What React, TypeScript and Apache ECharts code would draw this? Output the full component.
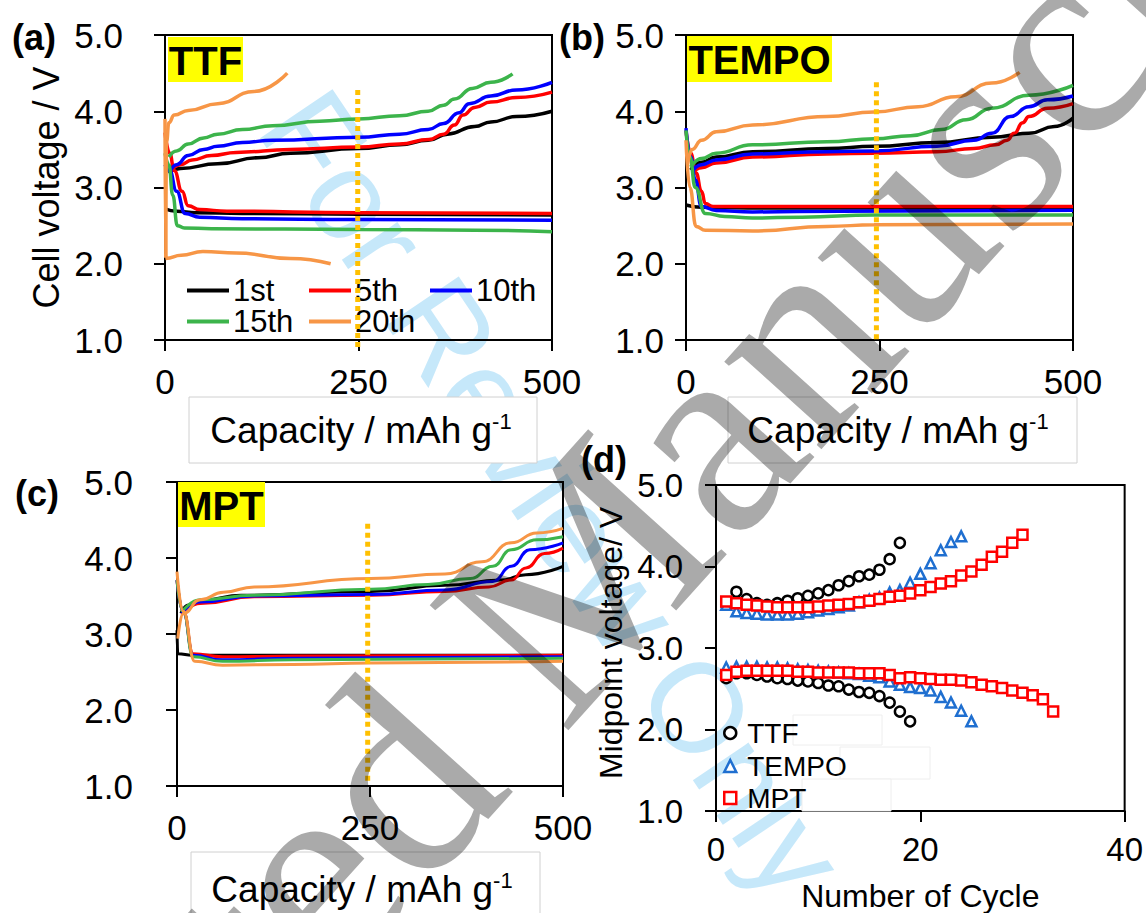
import React, { useEffect, useRef } from "react";
import * as echarts from "echarts";

// ---------------- Panel (a) TTF : [capacity mAh/g, voltage V] ----------------
const TTF_1ST_CHG = [[4,3.2],[20,3.25],[68,3.31],[120,3.39],[162,3.45],[250,3.51],[303,3.56],[340,3.62],[365,3.7],[400,3.8],[421,3.86],[454,3.93],[500,4.0]];
const TTF_1ST_DIS = [[0,2.72],[15,2.69],[40,2.67],[100,2.66],[250,2.65],[500,2.64]];
const TTF_5TH_CHG = [[6,3.2],[20,3.3],[35,3.36],[60,3.42],[92,3.46],[162,3.5],[250,3.53],[303,3.57],[341,3.63],[360,3.7],[374,3.82],[385,3.95],[400,4.05],[421,4.12],[454,4.18],[500,4.25]];
const TTF_5TH_DIS = [[0,3.72],[6,3.45],[12,3.22],[22,2.95],[30,2.76],[45,2.71],[80,2.69],[250,2.67],[500,2.66]];
const TTF_10TH_CHG = [[6,3.2],[15,3.3],[30,3.42],[50,3.5],[68,3.54],[100,3.59],[139,3.62],[250,3.66],[303,3.7],[340,3.76],[360,3.84],[380,3.98],[393,4.1],[421,4.2],[454,4.28],[500,4.38]];
const TTF_10TH_DIS = [[0,3.3],[6,3.22],[15,2.95],[26,2.66],[45,2.61],[100,2.59],[250,2.58],[500,2.57]];
const TTF_15TH_CHG = [[5,3.4],[15,3.48],[30,3.57],[50,3.65],[68,3.7],[100,3.76],[139,3.81],[200,3.87],[250,3.9],[303,3.94],[340,4.0],[360,4.08],[374,4.16],[397,4.3],[421,4.38],[449,4.49]];
const TTF_15TH_DIS = [[0,3.45],[5,3.3],[10,2.9],[16,2.5],[25,2.47],[60,2.46],[250,2.45],[400,2.44],[500,2.42]];
const TTF_20TH_CHG = [[1,2.08],[2,3.6],[5,3.85],[12,3.95],[30,4.01],[68,4.1],[115,4.26],[158,4.5]];
const TTF_20TH_DIS = [[0,3.9],[1,2.07],[21,2.11],[49,2.16],[92,2.14],[162,2.07],[214,2.0]];

// ---------------- Panel (b) TEMPO ----------------
const TEMPO_1ST_CHG = [[6,3.23],[20,3.33],[39,3.4],[86,3.47],[182,3.51],[243,3.54],[324,3.59],[395,3.66],[443,3.71],[476,3.8],[500,3.91]];
const TEMPO_1ST_DIS = [[0,2.77],[20,2.74],[100,2.73],[500,2.73]];
const TEMPO_5TH_CHG = [[8,3.19],[20,3.26],[39,3.32],[86,3.4],[182,3.44],[243,3.45],[324,3.47],[372,3.51],[400,3.56],[415,3.62],[424,3.71],[435,3.85],[443,3.93],[467,4.04],[500,4.1]];
const TEMPO_5TH_DIS = [[0,3.75],[6,3.45],[13,3.19],[20,2.95],[25,2.79],[35,2.75],[100,2.75],[500,2.75]];
const TEMPO_10TH_CHG = [[8,3.21],[20,3.3],[39,3.36],[86,3.44],[182,3.47],[243,3.48],[324,3.54],[372,3.62],[395,3.71],[419,3.93],[443,4.06],[467,4.15],[500,4.2]];
const TEMPO_10TH_DIS = [[0,3.78],[6,3.4],[12,3.1],[20,2.75],[39,2.7],[86,2.68],[200,2.69],[500,2.7]];
const TEMPO_15TH_CHG = [[6,3.27],[20,3.38],[39,3.45],[86,3.56],[182,3.6],[243,3.64],[290,3.68],[330,3.76],[362,3.89],[395,4.04],[443,4.21],[500,4.34]];
const TEMPO_15TH_DIS = [[0,3.75],[5,3.4],[12,3.0],[25,2.66],[50,2.62],[86,2.6],[150,2.61],[243,2.64],[500,2.64]];
const TEMPO_20TH_CHG = [[2,3.3],[8,3.5],[20,3.62],[39,3.73],[86,3.82],[182,3.93],[243,3.99],[300,4.06],[348,4.19],[395,4.37],[431,4.51]];
const TEMPO_20TH_DIS = [[0,3.62],[5,3.0],[13,2.49],[25,2.44],[86,2.43],[182,2.49],[243,2.51],[500,2.52]];

// ---------------- Panel (c) MPT ----------------
const MPT_1ST_CHG = [[5,3.27],[15,3.38],[35,3.45],[83,3.51],[251,3.56],[347,3.64],[419,3.71],[452,3.78],[500,3.89]];
const MPT_1ST_DIS = [[0,3.05],[1,2.74],[20,2.72],[500,2.72]];
const MPT_5TH_CHG = [[6,3.25],[30,3.4],[100,3.49],[251,3.51],[347,3.56],[404,3.62],[433,3.71],[452,3.87],[476,4.06],[500,4.13]];
const MPT_5TH_DIS = [[0,3.71],[8,3.3],[21,2.74],[59,2.7],[150,2.71],[500,2.72]];
const MPT_10TH_CHG = [[6,3.27],[30,3.42],[100,3.5],[251,3.52],[347,3.58],[409,3.69],[433,3.89],[457,4.11],[500,4.2]];
const MPT_10TH_DIS = [[0,3.71],[8,3.3],[21,2.72],[59,2.66],[150,2.68],[500,2.7]];
const MPT_15TH_CHG = [[6,3.29],[30,3.45],[100,3.51],[251,3.59],[325,3.65],[380,3.73],[409,3.89],[433,4.11],[466,4.24],[500,4.28]];
const MPT_15TH_DIS = [[0,3.71],[8,3.3],[21,2.7],[59,2.64],[150,2.66],[500,2.68]];
const MPT_20TH_CHG = [[1,2.94],[8,3.27],[30,3.45],[60,3.55],[100,3.62],[251,3.73],[347,3.79],[395,3.95],[433,4.2],[466,4.33],[500,4.39]];
const MPT_20TH_DIS = [[0,3.82],[8,3.3],[23,2.64],[59,2.59],[150,2.6],[251,2.62],[500,2.64]];

// reference dotted line (capacity, [top V, bottom V]) per panel
const REF_CAPACITY = [249, 246, 247];
const REF_V_RANGE = [[4.28, 0.87], [4.38, 1.0], [4.45, 1.06]];

// ---------------- Panel (d) midpoint voltages by cycle (starting at cycle 1) ----------------
const TTF_MID_CHG = [3.53,3.69,3.6,3.55,3.53,3.55,3.58,3.61,3.64,3.67,3.71,3.77,3.82,3.88,3.9,3.96,4.09,4.29];
const TTF_MID_DIS = [2.63,2.69,2.69,2.67,2.65,2.63,2.62,2.6,2.59,2.57,2.54,2.53,2.49,2.46,2.45,2.41,2.33,2.22,2.1];
const TEMPO_MID_CHG = [3.53,3.45,3.43,3.42,3.41,3.41,3.41,3.42,3.44,3.46,3.48,3.5,3.52,3.56,3.59,3.62,3.68,3.71,3.8,3.91,4.04,4.2,4.3,4.37];
const TEMPO_MID_DIS = [2.76,2.77,2.77,2.77,2.76,2.76,2.75,2.74,2.73,2.72,2.71,2.7,2.69,2.68,2.66,2.64,2.59,2.55,2.52,2.51,2.48,2.4,2.33,2.23,2.1];
const MPT_MID_CHG = [3.57,3.55,3.53,3.52,3.51,3.5,3.5,3.5,3.5,3.51,3.52,3.53,3.54,3.56,3.58,3.6,3.63,3.64,3.67,3.71,3.75,3.79,3.82,3.89,3.94,4.02,4.12,4.18,4.29,4.39];
const MPT_MID_DIS = [2.67,2.71,2.72,2.72,2.72,2.72,2.72,2.71,2.71,2.7,2.7,2.7,2.7,2.69,2.69,2.69,2.67,2.63,2.64,2.63,2.62,2.61,2.61,2.6,2.58,2.55,2.53,2.51,2.48,2.45,2.42,2.37,2.22];

const CYCLE_NAMES = ["1st", "5th", "10th", "15th", "20th"];
const CYCLE_COLORS = ["#000000", "#ff0000", "#0000ff", "#3cb44b", "#f79646"];
const PANEL_NAMES = ["TTF", "TEMPO", "MPT"];

const PANEL_CURVES = [
  [[TTF_1ST_CHG, TTF_1ST_DIS], [TTF_5TH_CHG, TTF_5TH_DIS], [TTF_10TH_CHG, TTF_10TH_DIS], [TTF_15TH_CHG, TTF_15TH_DIS], [TTF_20TH_CHG, TTF_20TH_DIS]],
  [[TEMPO_1ST_CHG, TEMPO_1ST_DIS], [TEMPO_5TH_CHG, TEMPO_5TH_DIS], [TEMPO_10TH_CHG, TEMPO_10TH_DIS], [TEMPO_15TH_CHG, TEMPO_15TH_DIS], [TEMPO_20TH_CHG, TEMPO_20TH_DIS]],
  [[MPT_1ST_CHG, MPT_1ST_DIS], [MPT_5TH_CHG, MPT_5TH_DIS], [MPT_10TH_CHG, MPT_10TH_DIS], [MPT_15TH_CHG, MPT_15TH_DIS], [MPT_20TH_CHG, MPT_20TH_DIS]],
];

const SANS = '"Liberation Sans", Arial, Helvetica, sans-serif';
const SERIF = '"Liberation Serif", "Times New Roman", serif';

const toXY = (vals: number[]) => vals.map((v, i) => [i + 1, v]);

function buildOption() {
  const grids = [
    { left: 165, top: 35, width: 387, height: 305 },
    { left: 686, top: 35, width: 387, height: 305 },
    { left: 177, top: 482, width: 386, height: 304 },
    { left: 716, top: 485, width: 409, height: 327 },
  ].map((g) => ({ ...g, show: true, borderColor: "#000", borderWidth: 2, backgroundColor: "transparent" }));

  const axisLine = { show: true, onZero: false, lineStyle: { color: "#000", width: 2 } };
  const axisTick = { show: true, inside: false, length: 11, lineStyle: { color: "#000", width: 2 } };

  const yMargins = [42, 22, 44, 33];
  const xMargins = [24, 24, 24, 22];
  const xAxis: any[] = [0, 1, 2].map((i) => ({
    type: "value", gridIndex: i, min: 0, max: 500, interval: 250,
    axisLine, axisTick, splitLine: { show: false },
    axisLabel: { color: "#000", fontSize: 35, fontFamily: SANS, margin: xMargins[i], showMinLabel: true, showMaxLabel: true },
  }));
  xAxis.push({
    type: "value", gridIndex: 3, min: 0, max: 40, interval: 20,
    axisLine, axisTick, splitLine: { show: false },
    axisLabel: { color: "#000", fontSize: 33, fontFamily: SANS, margin: xMargins[3], showMinLabel: true, showMaxLabel: true },
    name: "Number of Cycle", nameLocation: "middle", nameGap: 69,
    nameTextStyle: { color: "#000", fontSize: 32, fontFamily: SANS },
  });
  const yAxis: any[] = [0, 1, 2, 3].map((i) => ({
    type: "value", gridIndex: i, min: 1, max: 5, interval: 1,
    axisLine, axisTick, splitLine: { show: false },
    axisLabel: {
      color: "#000", fontSize: i === 3 ? 33 : 35, fontFamily: SANS, margin: yMargins[i],
      formatter: (v: number) => v.toFixed(1), showMinLabel: true, showMaxLabel: true,
    },
  }));
  yAxis[0].name = "Cell voltage / V";
  yAxis[0].nameLocation = "middle";
  yAxis[0].nameGap = 101;
  yAxis[0].nameTextStyle = { color: "#000", fontSize: 36, fontFamily: SANS };
  yAxis[3].name = "Midpoint voltage/ V";
  yAxis[3].nameLocation = "middle";
  yAxis[3].nameGap = 89;
  yAxis[3].nameTextStyle = { color: "#000", fontSize: 32, fontFamily: SANS, padding: [0, 0, 0, 10] };

  const series: any[] = [];
  PANEL_CURVES.forEach((curves, p) => {
    curves.forEach((pair, c) => {
      pair.forEach((data) => {
        series.push({
          type: "line", name: CYCLE_NAMES[c], xAxisIndex: p, yAxisIndex: p,
          data, showSymbol: false, symbol: "none", smooth: 0.5, smoothMonotone: "x",
          lineStyle: { color: CYCLE_COLORS[c], width: p === 2 ? 3 : 3.5 },
          itemStyle: { color: CYCLE_COLORS[c] }, z: 2 + c * 0.1, silent: true,
        });
      });
    });
    series.push({
      type: "line", name: "ref" + p, xAxisIndex: p, yAxisIndex: p,
      data: REF_V_RANGE[p].map((v) => [REF_CAPACITY[p], v]),
      showSymbol: false, symbol: "none", clip: false, silent: true,
      lineStyle: { color: "#ffc000", width: 5, type: [5, 4] }, z: 5,
    });
  });

  const scatterDefs = [
    { name: "TTF", symbol: "circle", color: "#000000", size: 10, chg: TTF_MID_CHG, dis: TTF_MID_DIS },
    { name: "TEMPO", symbol: "triangle", color: "#1f6fd0", size: 10, chg: TEMPO_MID_CHG, dis: TEMPO_MID_DIS },
    { name: "MPT", symbol: "rect", color: "#ff0000", size: 10, chg: MPT_MID_CHG, dis: MPT_MID_DIS },
  ];
  scatterDefs.forEach((s, k) => {
    series.push({
      type: "scatter", name: s.name, xAxisIndex: 3, yAxisIndex: 3,
      data: [...toXY(s.chg), ...toXY(s.dis)], symbol: s.symbol, symbolSize: s.size,
      itemStyle: { color: "#ffffff", borderColor: s.color, borderWidth: 2.5, opacity: 1 }, z: 3 + k, silent: true,
    });
  });

  // legends (a)
  const legA = [
    { name: "1st", left: 187, top: 275 },
    { name: "5th", left: 309, top: 275 },
    { name: "10th", left: 430, top: 275 },
    { name: "15th", left: 187, top: 306 },
    { name: "20th", left: 309, top: 306 },
  ].map((l, k) => ({
    data: [l.name], left: l.left, top: l.top, padding: 0, itemWidth: 42, itemHeight: 4, itemGap: 0,
    icon: "rect", selectedMode: false,
    itemStyle: { color: CYCLE_COLORS[k] },
    textStyle: { color: "#000", fontSize: 31, fontFamily: SANS, lineHeight: 28, padding: [0, 0, 0, -1] },
  }));
  const legD = scatterDefs.map((s, k) => ({
    data: [s.name], left: 723, top: [719, 752, 784][k], padding: 0, itemWidth: 12, itemHeight: 12,
    selectedMode: false, z: 8,
    itemStyle: { color: "#ffffff", borderColor: s.color, borderWidth: 2.5 },
    textStyle: { color: "#000", fontSize: 28, fontFamily: SANS, lineHeight: 28, padding: [0, 0, 0, 6] },
  }));

  const capTitle = (cx: number, cy: number) => ({
    type: "text", x: cx, y: cy, z: 6, silent: true,
    style: {
      text: "{m|Capacity / mAh g}{s|-1}",
      align: "center", verticalAlign: "middle", textAlign: "center", textVerticalAlign: "middle",
      rich: {
        m: { fontSize: 37, fontFamily: SANS, fill: "#000", color: "#000", lineHeight: 40 },
        s: { fontSize: 22, fontFamily: SANS, fill: "#000", color: "#000", verticalAlign: "top", lineHeight: 22 },
      },
    },
  });
  const box = (x: number, y: number, w: number, h: number, stroke = "#d0d0d0", z = 5) => ({
    type: "rect", z, silent: true, shape: { x, y, width: w, height: h },
    style: { fill: "#ffffff", stroke, lineWidth: 1 },
  });
  const plainText = (text: string, x: number, y: number, font: string, z = 6) => ({
    type: "text", x, y, z, silent: true,
    style: { text, font, fill: "#000", align: "center", verticalAlign: "middle", textAlign: "center", textVerticalAlign: "middle" },
  });
  const yellow = (x: number, y: number, w: number, h: number, text: string) => [
    { type: "rect", z: 6, silent: true, shape: { x, y, width: w, height: h }, style: { fill: "#ffff00" } },
    plainText(text, x + w / 2, y + h / 2 + 1, `bold 40px ${SANS}`, 7),
  ];

  const graphic: any[] = [
    // faint blue watermark (behind)
    {
      type: "text", x: 553, y: 494, rotation: (-56 * Math.PI) / 180, z: -10, silent: true,
      style: { text: "For Review Only", font: `127px ${SANS}`, fill: "#c6e8fa", align: "center", verticalAlign: "middle", textAlign: "center", textVerticalAlign: "middle" },
    },
    box(189, 397, 348, 66), capTitle(361, 430),
    box(728, 397, 349, 66), capTitle(898, 430),
    box(191, 852, 349, 70), capTitle(362, 889),
    box(793, 715, 89, 30, "#eeeeee", 1), box(840, 747, 90, 32, "#eeeeee", 1), box(802, 779, 89, 32, "#eeeeee", 1),
    ...yellow(168, 37, 75, 45, PANEL_NAMES[0]),
    ...yellow(687, 36, 145, 46, PANEL_NAMES[1]),
    ...yellow(178, 482, 87, 45, PANEL_NAMES[2]),
    plainText("(a)", 34, 37, `bold 36px ${SANS}`),
    plainText("(b)", 582, 37, `bold 36px ${SANS}`),
    plainText("(c)", 37, 493, `bold 36px ${SANS}`),
    plainText("(d)", 604, 459, `bold 36px ${SANS}`),
    // gray watermark (on top)
    {
      type: "text", x: 542, y: 616, rotation: (48 * Math.PI) / 180, z: 100, silent: true,
      style: { text: "Accepted Manuscript", font: `285px ${SERIF}`, fill: "rgba(0,0,0,0.333)", align: "center", verticalAlign: "middle", textAlign: "center", textVerticalAlign: "middle" },
    },
  ];

  return {
    animation: false,
    backgroundColor: "#ffffff",
    grid: grids,
    xAxis,
    yAxis,
    legend: [...legA, ...legD],
    series,
    graphic: { elements: graphic },
  };
}

export default function App() {
  const ref = useRef<HTMLDivElement>(null);
  useEffect(() => {
    if (!ref.current) return;
    const chart = echarts.init(ref.current, undefined, { renderer: "svg" });
    chart.setOption(buildOption() as any);
    return () => chart.dispose();
  }, []);
  return <div ref={ref} style={{ position: "fixed", left: 0, top: 0, width: 1146, height: 913 }} />;
}
